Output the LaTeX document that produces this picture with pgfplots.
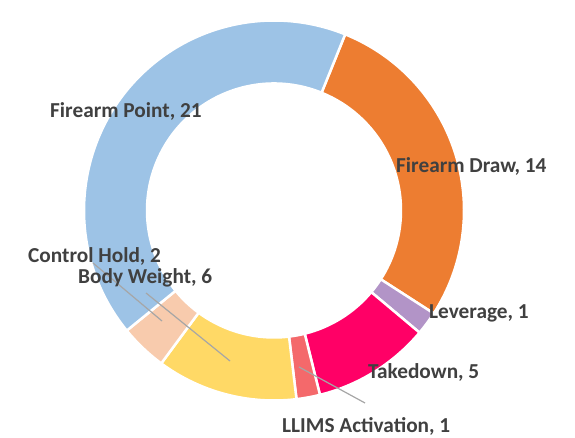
\documentclass[border=0pt]{standalone}
\usepackage{pgfplots}
\pgfplotsset{compat=1.18}
\usepackage{pgfplotstable}
\usepackage{fontspec}
\setmainfont{Carlito}
\definecolor{c0}{HTML}{ED7D31}
\definecolor{c1}{HTML}{B294C7}
\definecolor{c2}{HTML}{FF0066}
\definecolor{c3}{HTML}{F4696B}
\definecolor{c4}{HTML}{FFD966}
\definecolor{c5}{HTML}{F8CBAD}
\definecolor{c6}{HTML}{9DC3E6}
\definecolor{lbl}{HTML}{404040}
\definecolor{lead}{HTML}{A6A6A6}
\tikzset{lab/.style={anchor=west, font=\fontsize{21.3bp}{25bp}\selectfont\bfseries, text=lbl, inner sep=0pt}}
\pgfplotstableread[col sep=comma]{
label,value
Firearm Draw,14
Leverage,1
Takedown,5
LLIMS Activation,1
Body Weight,6
Control Hold,2
Firearm Point,21
}\donut
\begin{document}
\begin{tikzpicture}
\def\total{0}
\pgfplotsforeachungrouped \i in {0,...,6}{%
  \pgfplotstablegetelem{\i}{value}\of\donut
  \pgfmathsetmacro\total{\total+\pgfplotsretval}}
\pgfmathsetmacro\unitangle{360/\total}
\begin{axis}[
  scale only axis, width=575bp, height=438bp,
  xmin=0, xmax=575, ymin=0, ymax=438,
  axis line style={draw=none}, ticks=none, clip=false,
]
\def\acc{0}
\def\start{68}
\pgfplotsforeachungrouped \i in {0,...,6}{%
  \pgfplotstablegetelem{\i}{value}\of\donut
  \pgfmathsetmacro\a{\start-\unitangle*\acc}
  \pgfmathsetmacro\acc{\acc+\pgfplotsretval}
  \pgfmathsetmacro\b{\start-\unitangle*\acc}
  \edef\temp{\noexpand\fill[c\i, draw=white, line width=2.5bp] (axis cs:274,227.5) ++(\a:190bp) arc[start angle=\a, end angle=\b, radius=190bp] -- ++(\b:-63bp) arc[start angle=\b, end angle=\a, radius=127bp] -- cycle;}
  \temp
}
\addplot[lead, line width=1.2bp, no marks] coordinates {(93,175) (162,117)};
\addplot[lead, line width=1.2bp, no marks] coordinates {(146,145) (230,77)};
\addplot[lead, line width=1.2bp, no marks] coordinates {(299,71) (365,35)};
\node[lab] at (axis cs:50,327) {Firearm Point, 21};
\node[lab] at (axis cs:396,272) {Firearm Draw, 14};
\node[lab] at (axis cs:429,125) {Leverage, 1};
\node[lab] at (axis cs:368,66) {Takedown, 5};
\node[lab] at (axis cs:282,12) {LLIMS Activation, 1};
\node[lab] at (axis cs:28,182) {Control Hold, 2};
\node[lab] at (axis cs:78,160) {Body Weight, 6};
\end{axis}
\end{tikzpicture}
\end{document}
